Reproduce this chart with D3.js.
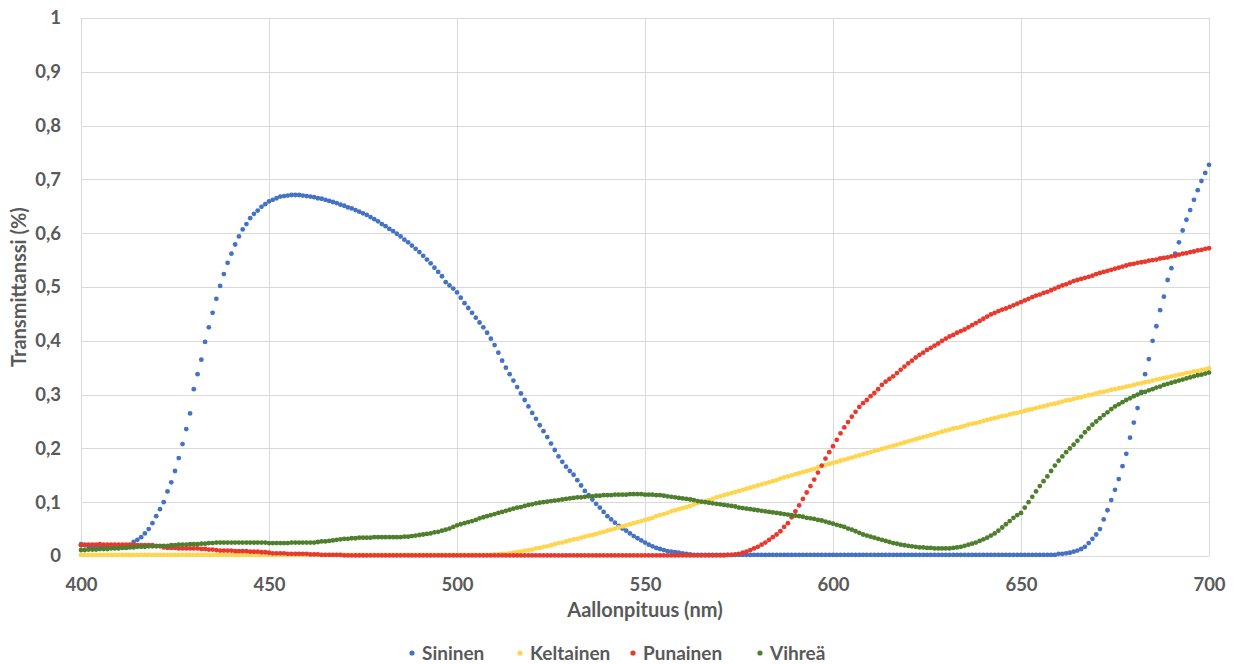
<!DOCTYPE html>
<html><head><meta charset="utf-8">
<script src="https://cdn.jsdelivr.net/npm/d3@7"></script>
<style>
html,body{margin:0;padding:0;background:#fff;}
svg text{font-family:Lato,"Open Sans",sans-serif;font-weight:700;fill:#595959;}
</style></head>
<body>
<svg id="chart" width="1234" height="664"></svg>
<script>
// Wavelengths 400..700 nm, step 1 nm
const wavelengthStart = 400;
const wavelengthEnd = 700;
const xTicks = [400, 450, 500, 550, 600, 650, 700];
const yTicks = [0, 0.1, 0.2, 0.3, 0.4, 0.5, 0.6, 0.7, 0.8, 0.9, 1];
const seriesNames = ["Sininen", "Keltainen", "Punainen", "Vihreä"];
const xTitle = "Aallonpituus (nm)";
const yTitle = "Transmittanssi (%)";

const sininen = [
/*400*/0.022,0.020,0.018,0.017,0.016,0.016,0.016,0.016,0.016,0.016,
/*410*/0.017,0.017,0.018,0.020,0.026,0.030,0.035,0.042,0.050,0.061,
/*420*/0.074,0.087,0.100,0.120,0.137,0.158,0.182,0.208,0.236,0.265,
/*430*/0.310,0.338,0.365,0.398,0.425,0.452,0.478,0.502,0.524,0.545,
/*440*/0.562,0.579,0.594,0.607,0.617,0.628,0.636,0.642,0.649,0.654,
/*450*/0.659,0.662,0.665,0.668,0.669,0.670,0.671,0.671,0.671,0.670,
/*460*/0.669,0.668,0.667,0.665,0.664,0.662,0.660,0.658,0.656,0.653,
/*470*/0.651,0.648,0.646,0.643,0.640,0.637,0.634,0.630,0.626,0.622,
/*480*/0.617,0.613,0.608,0.604,0.599,0.594,0.588,0.583,0.577,0.571,
/*490*/0.565,0.558,0.551,0.544,0.536,0.528,0.520,0.509,0.503,0.497,
/*500*/0.490,0.480,0.470,0.461,0.452,0.443,0.434,0.425,0.415,0.404,
/*510*/0.392,0.378,0.363,0.350,0.338,0.326,0.314,0.302,0.290,0.278,
/*520*/0.266,0.255,0.243,0.232,0.221,0.209,0.197,0.185,0.175,0.166,
/*530*/0.158,0.151,0.141,0.131,0.121,0.113,0.105,0.097,0.090,0.082,
/*540*/0.074,0.068,0.062,0.056,0.051,0.047,0.042,0.037,0.033,0.029,
/*550*/0.025,0.021,0.018,0.015,0.013,0.011,0.009,0.008,0.007,0.006,
/*560*/0.005,0.004,0.003,0.002,0.002,0.002,0.002,0.002,0.002,0.002,
/*570*/0.002,0.002,0.002,0.002,0.002,0.002,0.002,0.002,0.002,0.002,
/*580*/0.002,0.002,0.002,0.002,0.002,0.002,0.002,0.002,0.002,0.002,
/*590*/0.002,0.002,0.002,0.002,0.002,0.002,0.002,0.002,0.002,0.002,
/*600*/0.002,0.002,0.002,0.002,0.002,0.002,0.002,0.002,0.002,0.002,
/*610*/0.002,0.002,0.002,0.002,0.002,0.002,0.002,0.002,0.002,0.002,
/*620*/0.002,0.002,0.002,0.002,0.002,0.002,0.002,0.002,0.002,0.002,
/*630*/0.002,0.002,0.002,0.002,0.002,0.002,0.002,0.002,0.002,0.002,
/*640*/0.002,0.002,0.002,0.002,0.002,0.002,0.002,0.002,0.002,0.002,
/*650*/0.002,0.002,0.002,0.002,0.002,0.002,0.002,0.002,0.002,0.002,
/*660*/0.004,0.004,0.005,0.006,0.008,0.010,0.013,0.017,0.024,0.032,
/*670*/0.040,0.050,0.068,0.085,0.104,0.123,0.143,0.167,0.190,0.220,
/*680*/0.248,0.275,0.305,0.338,0.366,0.400,0.427,0.457,0.482,0.513,
/*690*/0.535,0.562,0.583,0.605,0.625,0.643,0.662,0.680,0.697,0.712,
/*700*/0.727
];

const keltainen = [
/*400*/0.002,0.002,0.002,0.002,0.002,0.002,0.002,0.002,0.002,0.002,
/*410*/0.002,0.002,0.002,0.002,0.002,0.002,0.002,0.002,0.002,0.002,
/*420*/0.002,0.002,0.002,0.002,0.002,0.002,0.002,0.002,0.002,0.002,
/*430*/0.002,0.002,0.002,0.002,0.002,0.002,0.002,0.002,0.002,0.002,
/*440*/0.002,0.002,0.002,0.002,0.002,0.002,0.002,0.002,0.002,0.002,
/*450*/0.002,0.002,0.002,0.002,0.002,0.002,0.002,0.002,0.002,0.002,
/*460*/0.002,0.002,0.002,0.002,0.002,0.002,0.002,0.002,0.002,0.002,
/*470*/0.002,0.002,0.002,0.002,0.002,0.002,0.002,0.002,0.002,0.002,
/*480*/0.002,0.002,0.002,0.002,0.002,0.002,0.002,0.002,0.002,0.002,
/*490*/0.002,0.002,0.002,0.002,0.002,0.002,0.002,0.002,0.002,0.002,
/*500*/0.002,0.002,0.002,0.002,0.002,0.002,0.002,0.002,0.002,0.002,
/*510*/0.003,0.003,0.004,0.004,0.005,0.006,0.007,0.008,0.010,0.011,
/*520*/0.012,0.014,0.015,0.017,0.018,0.020,0.022,0.024,0.025,0.027,
/*530*/0.029,0.031,0.032,0.034,0.036,0.038,0.039,0.041,0.043,0.045,
/*540*/0.047,0.049,0.051,0.053,0.055,0.057,0.059,0.061,0.063,0.065,
/*550*/0.067,0.069,0.071,0.074,0.076,0.078,0.080,0.083,0.085,0.087,
/*560*/0.089,0.091,0.093,0.096,0.098,0.100,0.102,0.104,0.106,0.109,
/*570*/0.111,0.113,0.115,0.117,0.119,0.121,0.123,0.125,0.127,0.129,
/*580*/0.131,0.133,0.135,0.137,0.139,0.141,0.144,0.146,0.148,0.150,
/*590*/0.152,0.154,0.156,0.158,0.160,0.162,0.165,0.167,0.169,0.171,
/*600*/0.173,0.175,0.177,0.179,0.181,0.183,0.185,0.187,0.189,0.191,
/*610*/0.193,0.195,0.197,0.199,0.201,0.203,0.205,0.207,0.209,0.211,
/*620*/0.213,0.215,0.217,0.219,0.221,0.223,0.225,0.227,0.229,0.231,
/*630*/0.233,0.235,0.237,0.238,0.240,0.242,0.244,0.246,0.247,0.249,
/*640*/0.251,0.253,0.255,0.256,0.258,0.260,0.261,0.263,0.265,0.266,
/*650*/0.268,0.270,0.272,0.273,0.275,0.277,0.278,0.280,0.282,0.283,
/*660*/0.285,0.287,0.289,0.290,0.292,0.294,0.295,0.297,0.299,0.300,
/*670*/0.302,0.304,0.305,0.307,0.309,0.310,0.312,0.313,0.315,0.316,
/*680*/0.318,0.320,0.321,0.323,0.324,0.326,0.328,0.329,0.331,0.332,
/*690*/0.334,0.335,0.337,0.338,0.340,0.341,0.343,0.344,0.346,0.347,
/*700*/0.349
];

const punainen = [
/*400*/0.020,0.021,0.021,0.021,0.021,0.022,0.021,0.021,0.021,0.021,
/*410*/0.021,0.021,0.021,0.021,0.021,0.020,0.020,0.020,0.020,0.020,
/*420*/0.019,0.018,0.016,0.015,0.015,0.015,0.014,0.014,0.014,0.014,
/*430*/0.014,0.014,0.013,0.013,0.012,0.012,0.011,0.010,0.010,0.010,
/*440*/0.010,0.009,0.009,0.009,0.009,0.008,0.008,0.008,0.007,0.007,
/*450*/0.006,0.005,0.005,0.005,0.005,0.004,0.004,0.004,0.004,0.004,
/*460*/0.004,0.003,0.003,0.003,0.002,0.002,0.002,0.002,0.002,0.002,
/*470*/0.001,0.001,0.001,0.001,0.001,0.001,0.001,0.001,0.001,0.001,
/*480*/0.001,0.001,0.001,0.001,0.001,0.001,0.001,0.001,0.001,0.001,
/*490*/0.001,0.001,0.001,0.001,0.001,0.001,0.001,0.001,0.001,0.001,
/*500*/0.001,0.001,0.001,0.001,0.001,0.001,0.001,0.001,0.001,0.001,
/*510*/0.001,0.001,0.001,0.001,0.001,0.001,0.001,0.001,0.001,0.001,
/*520*/0.001,0.001,0.001,0.001,0.001,0.001,0.001,0.001,0.001,0.001,
/*530*/0.001,0.001,0.001,0.001,0.001,0.001,0.001,0.001,0.001,0.001,
/*540*/0.001,0.001,0.001,0.001,0.001,0.001,0.001,0.001,0.001,0.001,
/*550*/0.001,0.001,0.001,0.001,0.001,0.001,0.001,0.001,0.001,0.001,
/*560*/0.001,0.001,0.001,0.001,0.001,0.001,0.001,0.001,0.001,0.001,
/*570*/0.001,0.001,0.002,0.002,0.003,0.004,0.006,0.008,0.011,0.014,
/*580*/0.017,0.021,0.025,0.030,0.035,0.040,0.046,0.054,0.061,0.072,
/*590*/0.083,0.094,0.106,0.118,0.130,0.142,0.155,0.168,0.181,0.193,
/*600*/0.204,0.216,0.228,0.239,0.249,0.259,0.268,0.277,0.284,0.290,
/*610*/0.297,0.303,0.310,0.318,0.324,0.329,0.334,0.340,0.346,0.352,
/*620*/0.358,0.363,0.369,0.374,0.378,0.383,0.387,0.391,0.395,0.400,
/*630*/0.404,0.408,0.411,0.415,0.418,0.421,0.425,0.429,0.433,0.437,
/*640*/0.441,0.445,0.449,0.452,0.455,0.458,0.460,0.463,0.466,0.469,
/*650*/0.472,0.475,0.478,0.481,0.484,0.486,0.489,0.491,0.494,0.497,
/*660*/0.500,0.503,0.505,0.508,0.511,0.513,0.515,0.517,0.519,0.521,
/*670*/0.524,0.526,0.528,0.530,0.532,0.534,0.536,0.538,0.540,0.542,
/*680*/0.543,0.545,0.546,0.547,0.549,0.550,0.551,0.553,0.554,0.555,
/*690*/0.557,0.558,0.560,0.562,0.563,0.565,0.566,0.568,0.569,0.571,
/*700*/0.572
];

const vihrea = [
/*400*/0.011,0.011,0.012,0.012,0.012,0.013,0.013,0.013,0.014,0.014,
/*410*/0.014,0.015,0.015,0.016,0.016,0.017,0.017,0.017,0.018,0.018,
/*420*/0.018,0.019,0.019,0.019,0.020,0.020,0.021,0.021,0.021,0.022,
/*430*/0.022,0.022,0.023,0.023,0.024,0.024,0.025,0.025,0.025,0.025,
/*440*/0.025,0.025,0.025,0.025,0.025,0.025,0.025,0.025,0.025,0.025,
/*450*/0.024,0.024,0.024,0.024,0.024,0.024,0.025,0.025,0.025,0.025,
/*460*/0.025,0.025,0.025,0.026,0.027,0.027,0.028,0.029,0.030,0.031,
/*470*/0.032,0.032,0.033,0.033,0.034,0.034,0.034,0.034,0.035,0.035,
/*480*/0.035,0.035,0.035,0.035,0.035,0.035,0.036,0.036,0.037,0.038,
/*490*/0.039,0.040,0.041,0.042,0.044,0.045,0.047,0.049,0.051,0.054,
/*500*/0.057,0.059,0.061,0.063,0.065,0.067,0.070,0.072,0.074,0.076,
/*510*/0.078,0.080,0.082,0.084,0.086,0.088,0.090,0.091,0.093,0.095,
/*520*/0.096,0.098,0.099,0.100,0.101,0.102,0.103,0.104,0.105,0.106,
/*530*/0.107,0.108,0.109,0.109,0.110,0.111,0.111,0.112,0.112,0.113,
/*540*/0.113,0.113,0.114,0.114,0.114,0.114,0.115,0.115,0.115,0.115,
/*550*/0.114,0.114,0.114,0.113,0.113,0.112,0.111,0.110,0.109,0.108,
/*560*/0.107,0.106,0.105,0.104,0.102,0.101,0.100,0.099,0.098,0.097,
/*570*/0.096,0.095,0.094,0.093,0.092,0.090,0.089,0.088,0.087,0.086,
/*580*/0.085,0.084,0.083,0.082,0.081,0.080,0.079,0.078,0.077,0.076,
/*590*/0.075,0.074,0.073,0.071,0.070,0.069,0.067,0.066,0.064,0.062,
/*600*/0.060,0.058,0.056,0.054,0.051,0.049,0.046,0.043,0.040,0.038,
/*610*/0.036,0.034,0.032,0.030,0.028,0.026,0.024,0.023,0.021,0.020,
/*620*/0.019,0.018,0.017,0.016,0.016,0.015,0.015,0.014,0.014,0.014,
/*630*/0.014,0.014,0.015,0.016,0.017,0.019,0.021,0.023,0.025,0.028,
/*640*/0.031,0.034,0.038,0.042,0.047,0.053,0.059,0.065,0.071,0.076,
/*650*/0.080,0.090,0.100,0.110,0.120,0.130,0.139,0.148,0.158,0.168,
/*660*/0.177,0.185,0.193,0.200,0.207,0.214,0.222,0.230,0.237,0.244,
/*670*/0.250,0.256,0.262,0.267,0.273,0.278,0.282,0.286,0.290,0.293,
/*680*/0.297,0.300,0.303,0.305,0.308,0.310,0.313,0.315,0.318,0.320,
/*690*/0.322,0.324,0.326,0.328,0.330,0.332,0.334,0.336,0.337,0.339,
/*700*/0.341
];

const seriesValues = [sininen, keltainen, punainen, vihrea];
const seriesColors = ["#4472C4", "#FFD54F", "#E8392E", "#4E7F2D"];

const svg = d3.select("#chart");
const W = 1234, H = 664;
const margin = {left: 81, right: 25, top: 18, bottom: 108};

const x = d3.scaleLinear().domain([wavelengthStart, wavelengthEnd]).range([margin.left, W - margin.right]);
const y = d3.scaleLinear().domain([0, 1]).range([H - margin.bottom, margin.top]);

// grid
const grid = svg.append("g");
grid.selectAll("line.h").data(yTicks).join("line")
  .attr("x1", x(wavelengthStart)).attr("x2", x(wavelengthEnd))
  .attr("y1", d => Math.round(y(d)) + 0.5).attr("y2", d => Math.round(y(d)) + 0.5)
  .attr("stroke", "#d9d9d9").attr("stroke-width", 1);
grid.selectAll("line.v").data(xTicks).join("line")
  .attr("y1", y(0)).attr("y2", y(1))
  .attr("x1", d => Math.round(x(d)) + 0.5).attr("x2", d => Math.round(x(d)) + 0.5)
  .attr("stroke", "#d9d9d9").attr("stroke-width", 1);

// axes (labels only)
const xAxis = svg.append("g").attr("transform", `translate(0,${y(0)})`)
  .call(d3.axisBottom(x).tickValues(xTicks).tickSize(0).tickPadding(22).tickFormat(d3.format("d")));
xAxis.select(".domain").remove();
xAxis.selectAll("text").attr("font-size", 18.5).style("font-family", "Lato, sans-serif").style("font-weight", 700).attr("fill", "#595959");

const fmtY = d => d === 0 ? "0" : (d === 1 ? "1" : String(d).replace(".", ","));
const yAxis = svg.append("g").attr("transform", `translate(${x(wavelengthStart)},0)`)
  .call(d3.axisLeft(y).tickValues(yTicks).tickSize(0).tickPadding(20).tickFormat(fmtY));
yAxis.select(".domain").remove();
yAxis.selectAll("text").attr("font-size", 18.5).style("font-family", "Lato, sans-serif").style("font-weight", 700).attr("fill", "#595959");

// titles
svg.append("text").attr("x", (x(wavelengthStart) + x(wavelengthEnd)) / 2).attr("y", 617)
  .attr("text-anchor", "middle").attr("font-size", 20).text(xTitle);
svg.append("text").attr("transform", `translate(26,${(y(0) + y(1)) / 2}) rotate(-90)`)
  .attr("text-anchor", "middle").attr("font-size", 20).text(yTitle);

// data points
const wl = d3.range(wavelengthStart, wavelengthEnd + 1);
seriesValues.forEach((vals, i) => {
  svg.append("g").selectAll("circle").data(vals).join("circle")
    .attr("cx", (d, j) => x(wl[j]))
    .attr("cy", d => y(d))
    .attr("r", 2.4)
    .attr("fill", seriesColors[i]);
});

// legend
const legendX = [412, 520, 633, 760];
const lg = svg.append("g");
seriesNames.forEach((n, i) => {
  lg.append("circle").attr("cx", legendX[i]).attr("cy", 653).attr("r", 2.6).attr("fill", seriesColors[i]);
  lg.append("text").attr("x", legendX[i] + 10).attr("y", 660).attr("font-size", 19).text(n);
});
</script>
</body></html>
